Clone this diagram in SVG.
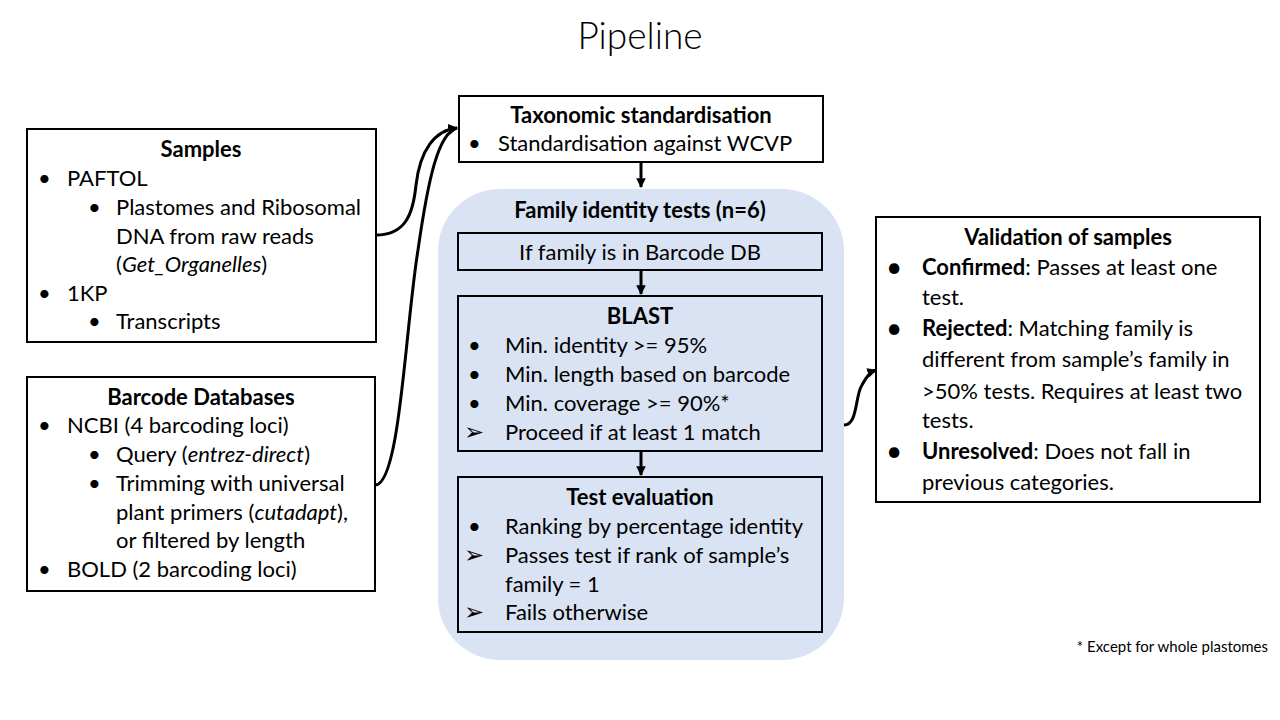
<svg xmlns="http://www.w3.org/2000/svg" width="1280" height="720" viewBox="0 0 1280 720">
<defs>
<style>
text{font-family:Lato,"Liberation Sans",sans-serif;fill:#000;font-size:22px}
.t{font-weight:bold;text-anchor:middle}
.box{fill:#fff;stroke:#000;stroke-width:2}
.ibox{fill:none;stroke:#000;stroke-width:2}
.con{fill:none;stroke:#000;stroke-width:3}
.i{font-style:italic}
.b{font-weight:bold}
.arr{font-family:"DejaVu Sans",sans-serif;font-size:24px}
.dot{font-size:28px}
</style>
<marker id="ah" viewBox="0 0 10 10" refX="9" refY="5" markerWidth="3.2" markerHeight="3.2" orient="auto" markerUnits="strokeWidth">
<path d="M0,0 L10,5 L0,10 z" fill="#000"/>
</marker>
</defs>
<rect width="1280" height="720" fill="#fff"/>
<text x="640" y="49" text-anchor="middle" style="font-size:37px;font-weight:300">Pipeline</text>

<g id="samples">
<rect class="box" x="27" y="129" width="349" height="213"/>
<text class="t" x="201" y="157">Samples</text>
<text x="38" y="186">•</text><text x="67" y="186">PAFTOL</text>
<text x="88" y="215">•</text><text x="116" y="215">Plastomes and Ribosomal</text>
<text x="116" y="244">DNA from raw reads</text>
<text x="116" y="272">(<tspan class="i">Get_Organelles</tspan>)</text>
<text x="38" y="301">•</text><text x="67" y="301">1KP</text>
<text x="88" y="329">•</text><text x="116" y="329">Transcripts</text>
</g>

<g id="barcode">
<rect class="box" x="27" y="377" width="348" height="214"/>
<text class="t" x="201" y="405">Barcode Databases</text>
<text x="38" y="433">•</text><text x="67" y="433">NCBI (4 barcoding loci)</text>
<text x="88" y="462">•</text><text x="116" y="462">Query (<tspan class="i">entrez-direct</tspan>)</text>
<text x="88" y="491">•</text><text x="116" y="491">Trimming with universal</text>
<text x="116" y="520">plant primers (<tspan class="i">cutadapt</tspan>),</text>
<text x="116" y="548">or filtered by length</text>
<text x="38" y="577">•</text><text x="67" y="577">BOLD (2 barcoding loci)</text>
</g>

<g id="taxonomic">
<rect class="box" x="459" y="96" width="364" height="66"/>
<text class="t" x="641" y="123">Taxonomic standardisation</text>
<text x="468" y="151">•</text><text x="498" y="151">Standardisation against WCVP</text>
</g>

<g id="family-tests">
<rect x="438" y="189" width="406" height="471" rx="62" ry="62" fill="#dae3f3"/>
<text class="t" x="640" y="218">Family identity tests (n=6)</text>
</g>

<g id="barcode-db">
<rect class="ibox" x="458" y="233" width="364" height="37"/>
<text x="640" y="260" text-anchor="middle">If family is in Barcode DB</text>
</g>

<g id="blast">
<rect class="ibox" x="458" y="296" width="364" height="155"/>
<text class="t" x="640" y="324">BLAST</text>
<text x="468" y="353">•</text><text x="505" y="353">Min. identity &gt;= 95%</text>
<text x="468" y="382">•</text><text x="505" y="382">Min. length based on barcode</text>
<text x="468" y="411">•</text><text x="505" y="411">Min. coverage &gt;= 90%*</text>
<text class="arr" x="464" y="440">➢</text><text x="505" y="440">Proceed if at least 1 match</text>
</g>

<g id="test-eval">
<rect class="ibox" x="458" y="477" width="364" height="155"/>
<text class="t" x="640" y="505">Test evaluation</text>
<text x="468" y="534">•</text><text x="505" y="534">Ranking by percentage identity</text>
<text class="arr" x="464" y="563">➢</text><text x="505" y="563">Passes test if rank of sample’s</text>
<text x="505" y="592">family = 1</text>
<text class="arr" x="464" y="620">➢</text><text x="505" y="620">Fails otherwise</text>
</g>

<g id="validation">
<rect class="box" x="876" y="217" width="384" height="285"/>
<text class="t" x="1068" y="245">Validation of samples</text>
<text class="dot" x="886" y="277">•</text><text x="922" y="275"><tspan class="b">Confirmed</tspan>: Passes at least one</text>
<text x="922" y="305">test.</text>
<text class="dot" x="886" y="338">•</text><text x="922" y="336"><tspan class="b">Rejected</tspan>: Matching family is</text>
<text x="922" y="367">different from sample’s family in</text>
<text x="922" y="399">&gt;50% tests. Requires at least two</text>
<text x="922" y="428">tests.</text>
<text class="dot" x="886" y="461">•</text><text x="922" y="459"><tspan class="b">Unresolved</tspan>: Does not fall in</text>
<text x="922" y="490">previous categories.</text>
</g>

<text x="1268" y="652" text-anchor="end" style="font-size:15px">* Except for whole plastomes</text>

<g id="connectors">
<path class="con" d="M641,162 L641,187" stroke-width="2" marker-end="url(#ah)"/>
<path class="con" d="M641,270 L641,294" stroke-width="2" marker-end="url(#ah)"/>
<path class="con" d="M641,451 L641,475" stroke-width="2" marker-end="url(#ah)"/>
<path class="con" d="M376,235 C405,235 413,215 416,185 C420,150 435,130 457,128" marker-end="url(#ah)"/>
<path class="con" d="M375,485 C400,485 405,330 418,250 C428,180 438,133 457,128" marker-end="url(#ah)"/>
<path class="con" d="M844,425 C858,425 855,395 862,385 C866,377 870,372 876,370" marker-end="url(#ah)"/>
</g>
</svg>
